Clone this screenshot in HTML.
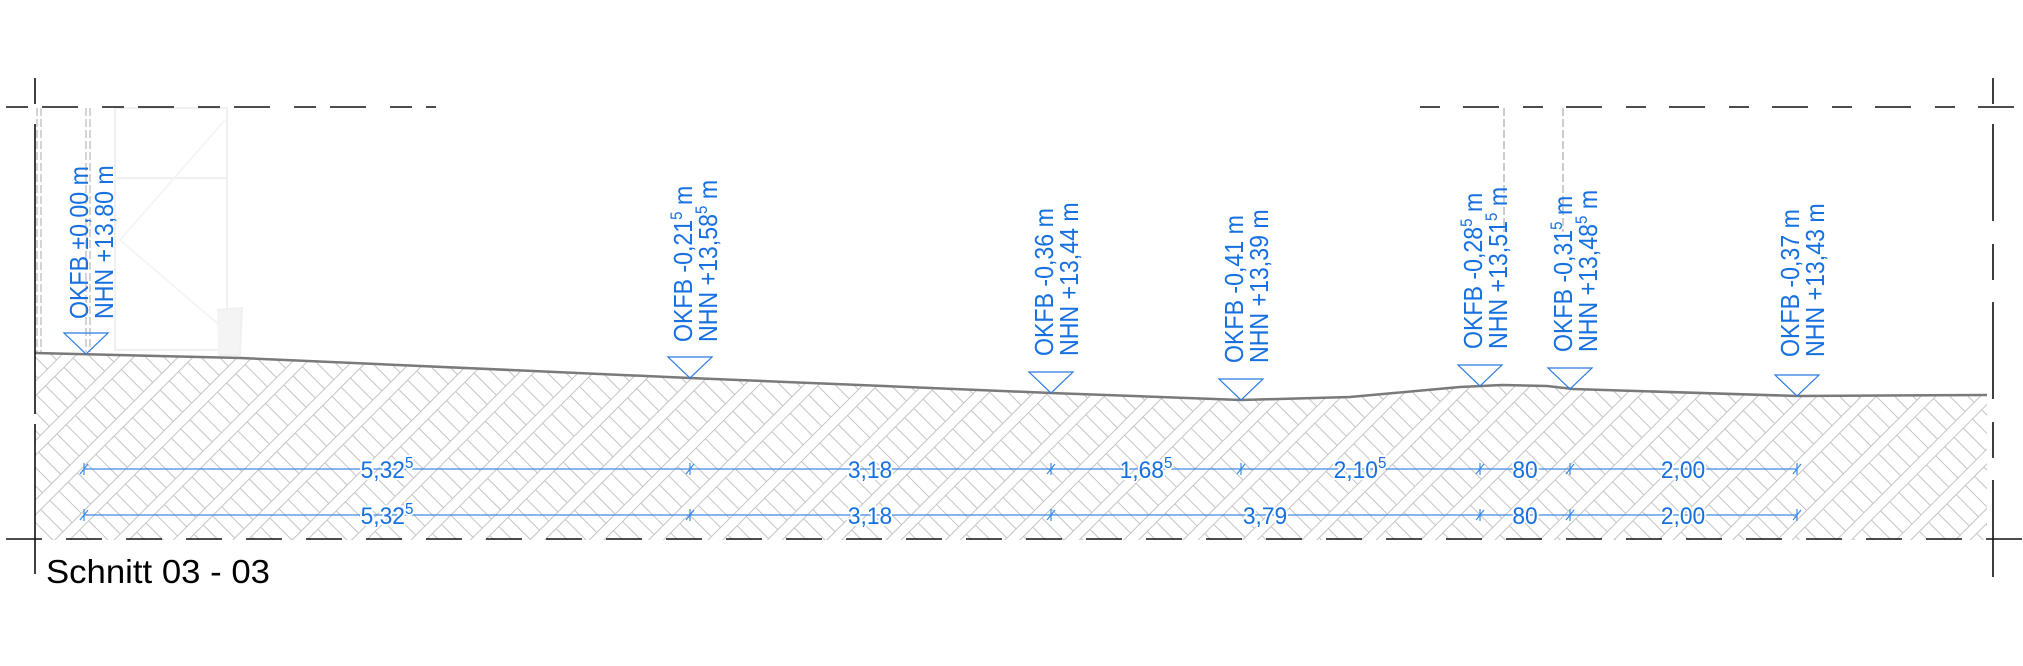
<!DOCTYPE html>
<html><head><meta charset="utf-8"><style>
html,body{margin:0;padding:0;background:#fff;width:2023px;height:666px;overflow:hidden}
svg{display:block}
</style></head><body>
<svg width="2023" height="666" viewBox="0 0 2023 666" xmlns="http://www.w3.org/2000/svg" font-family="'Liberation Sans', Arial, sans-serif">
<defs>
<pattern id="h" width="42" height="13" patternUnits="userSpaceOnUse" patternTransform="rotate(45)">
<line x1="0.5" y1="0" x2="0.5" y2="13" stroke="#c4c4c4" stroke-width="1"/>
<line x1="11" y1="0" x2="11" y2="13" stroke="#c4c4c4" stroke-width="1"/>
<line x1="11" y1="6.5" x2="42" y2="6.5" stroke="#c4c4c4" stroke-width="1"/>
</pattern>
<clipPath id="gc"><polygon points="35,353 241,358 690,378 1051,393 1241,400 1350,397 1460,387 1502,385 1547,386 1573,389 1797,396 1987,395 1987,540 35,540"/></clipPath>
</defs>
<rect x="0" y="0" width="2023" height="666" fill="url(#h)" clip-path="url(#gc)"/>

<!-- faint building -->
<g fill="none" stroke="#f0f0f0" stroke-width="2">
<rect x="115" y="108" width="112" height="242"/>
<line x1="115" y1="178" x2="227" y2="178"/>
<line x1="120" y1="240" x2="225" y2="120" stroke="#f5f5f5"/>
<line x1="120" y1="240" x2="225" y2="330" stroke="#f5f5f5"/>
<path d="M217,310 L242,308 L240,355 L218,355" fill="#f4f4f4" stroke="#f0f0f0"/>
</g>
<g stroke="#aaa" stroke-width="1" stroke-dasharray="8 3" fill="none">
<line x1="37" y1="108" x2="37" y2="352"/><line x1="41" y1="108" x2="41" y2="352"/>
<line x1="86" y1="108" x2="86" y2="352"/><line x1="90" y1="108" x2="90" y2="352"/>
<line x1="1504" y1="108" x2="1504" y2="232" stroke="#999"/>
<line x1="1563" y1="108" x2="1563" y2="232" stroke="#999"/>
</g>

<!-- ground surface -->
<polyline points="35,353 241,358 690,378 1051,393 1241,400 1350,397 1460,387 1502,385 1547,386 1573,389 1797,396 1987,395" fill="none" stroke="#7a7a7a" stroke-width="2.5"/>

<!-- frame dashed lines -->
<g stroke="#111" stroke-width="1.6" fill="none">
<line x1="6" y1="107" x2="436" y2="107" stroke-dasharray="22 14 36 24"/>
<line x1="1420" y1="107" x2="2023" y2="107" stroke-dasharray="20 23 36 24" />
<line x1="6" y1="539" x2="2023" y2="539" stroke-dasharray="36 24"/>
<line x1="35" y1="78" x2="35" y2="590" stroke-dasharray="26 20 290 10 150 20 30"/>
<line x1="1993" y1="78" x2="1993" y2="590" stroke-dasharray="26 20 97 23 36 22 97 23 36 22 97 23"/>
</g>

<!-- markers -->
<g stroke="#2a7be0" stroke-width="1.2" fill="none">
<path d="M64,333 L108,333 L86,354 Z"/>
<path d="M668,357 L712,357 L690,378 Z"/>
<path d="M1029,372 L1073,372 L1051,393 Z"/>
<path d="M1219,379 L1263,379 L1241,400 Z"/>
<path d="M1458,365 L1502,365 L1480,386 Z"/>
<path d="M1548,368 L1592,368 L1570,389 Z"/>
<path d="M1775,375 L1819,375 L1797,396 Z"/>
</g>
<g fill="#1670e0" font-size="26">
<text transform="translate(88,319) rotate(-90) scale(0.89,1)">OKFB ±0,00 m</text>
<text transform="translate(113,319) rotate(-90) scale(0.89,1)">NHN +13,80 m</text>
<text transform="translate(692,342) rotate(-90) scale(0.89,1)">OKFB -0,21<tspan font-size="17" dy="-10">5</tspan><tspan dy="10"> m</tspan></text>
<text transform="translate(717,342) rotate(-90) scale(0.89,1)">NHN +13,58<tspan font-size="17" dy="-10">5</tspan><tspan dy="10"> m</tspan></text>
<text transform="translate(1053,356) rotate(-90) scale(0.89,1)">OKFB -0,36 m</text>
<text transform="translate(1078,356) rotate(-90) scale(0.89,1)">NHN +13,44 m</text>
<text transform="translate(1243,363) rotate(-90) scale(0.89,1)">OKFB -0,41 m</text>
<text transform="translate(1268,363) rotate(-90) scale(0.89,1)">NHN +13,39 m</text>
<text transform="translate(1482,349) rotate(-90) scale(0.89,1)">OKFB -0,28<tspan font-size="17" dy="-10">5</tspan><tspan dy="10"> m</tspan></text>
<text transform="translate(1507,349) rotate(-90) scale(0.89,1)">NHN +13,51<tspan font-size="17" dy="-10">5</tspan><tspan dy="10"> m</tspan></text>
<text transform="translate(1572,352) rotate(-90) scale(0.89,1)">OKFB -0,31<tspan font-size="17" dy="-10">5</tspan><tspan dy="10"> m</tspan></text>
<text transform="translate(1597,352) rotate(-90) scale(0.89,1)">NHN +13,48<tspan font-size="17" dy="-10">5</tspan><tspan dy="10"> m</tspan></text>
<text transform="translate(1799,357) rotate(-90) scale(0.89,1)">OKFB -0,37 m</text>
<text transform="translate(1824,357) rotate(-90) scale(0.89,1)">NHN +13,43 m</text>
</g>

<!-- dimension lines -->
<g stroke="#3d8ae6" stroke-width="1.2">
<line x1="84" y1="469" x2="1797" y2="469"/>
<line x1="84" y1="515" x2="1797" y2="515"/>
<path d="M84,463v12M80,474l8,-10M690,463v12M686,474l8,-10M1051,463v12M1047,474l8,-10M1241,463v12M1237,474l8,-10M1480,463v12M1476,474l8,-10M1570,463v12M1566,474l8,-10M1797,463v12M1793,474l8,-10"/>
<path d="M84,509v12M80,520l8,-10M690,509v12M686,520l8,-10M1051,509v12M1047,520l8,-10M1480,509v12M1476,520l8,-10M1570,509v12M1566,520l8,-10M1797,509v12M1793,520l8,-10"/>
</g>
<g fill="#1670e0" font-size="24" text-anchor="middle" stroke="#fff" stroke-width="4" paint-order="stroke" stroke-linejoin="round">
<text transform="translate(387,478) scale(0.95,1)">5,32<tspan font-size="16" dy="-10">5</tspan></text>
<text transform="translate(870,478) scale(0.95,1)">3,18</text>
<text transform="translate(1146,478) scale(0.95,1)">1,68<tspan font-size="16" dy="-10">5</tspan></text>
<text transform="translate(1360,478) scale(0.95,1)">2,10<tspan font-size="16" dy="-10">5</tspan></text>
<text transform="translate(1525,478) scale(0.95,1)">80</text>
<text transform="translate(1683,478) scale(0.95,1)">2,00</text>
<text transform="translate(387,524) scale(0.95,1)">5,32<tspan font-size="16" dy="-10">5</tspan></text>
<text transform="translate(870,524) scale(0.95,1)">3,18</text>
<text transform="translate(1265,524) scale(0.95,1)">3,79</text>
<text transform="translate(1525,524) scale(0.95,1)">80</text>
<text transform="translate(1683,524) scale(0.95,1)">2,00</text>
</g>

<text x="46" y="583" font-size="33" fill="#000" textLength="224" lengthAdjust="spacingAndGlyphs">Schnitt 03 - 03</text>
</svg>
</body></html>
